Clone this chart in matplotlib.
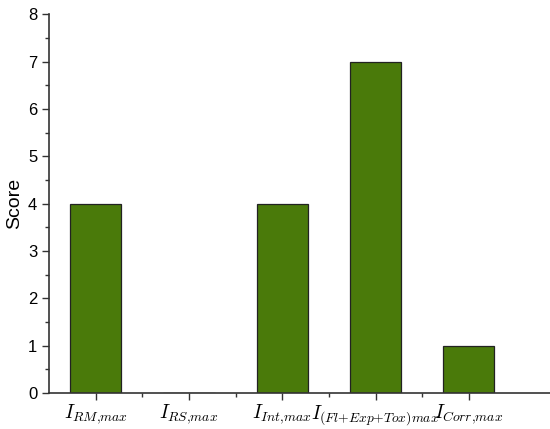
import numpy as np
import matplotlib.pyplot as plt

plt.rcParams['font.family'] = ['Liberation Sans', 'DejaVu Sans']
plt.rcParams['mathtext.fontset'] = 'cm'

categorias = [r'$I_{RM{,}max}$', r'$I_{RS{,}max}$', r'$I_{Int{,}max}$',
              r'$I_{(Fl{+}Exp{+}Tox)max}$', r'$I_{Corr{,}max}$']
puntajes = [4, 0, 4, 7, 1]

fig = plt.figure(figsize=(5.5, 4.29), dpi=100)
ax = fig.add_axes([0.089, 0.084, 0.911, 0.883])

x = np.arange(len(categorias))
ax.bar(x, puntajes, width=0.55, color='#4a7a0a', edgecolor='#222222', linewidth=0.9)

ax.set_xlim(-0.5, 4.87)
ax.set_ylim(0, 8)
ax.set_xticks(x)
ax.set_xticklabels(categorias, fontsize=14)
ax.set_xticks(x[:-1] + 0.5, minor=True)
ax.set_yticks(range(9))
ax.set_yticks(np.arange(0.5, 8, 1), minor=True)
ax.tick_params(axis='y', labelsize=12, direction='out', length=5, width=1, color='#333333')
ax.tick_params(axis='y', which='minor', length=3, width=1, color='#333333')
ax.tick_params(axis='x', direction='out', length=5, width=1, color='#333333', pad=2)
ax.tick_params(axis='x', which='minor', length=3, width=1, color='#333333')
ax.spines['top'].set_visible(False)
ax.spines['right'].set_visible(False)
for s in ['left', 'bottom']:
    ax.spines[s].set_color('#333333')
    ax.spines[s].set_linewidth(1.2)
ax.set_ylabel('Score', fontsize=14, labelpad=3)

plt.savefig('out.png', dpi=100)
